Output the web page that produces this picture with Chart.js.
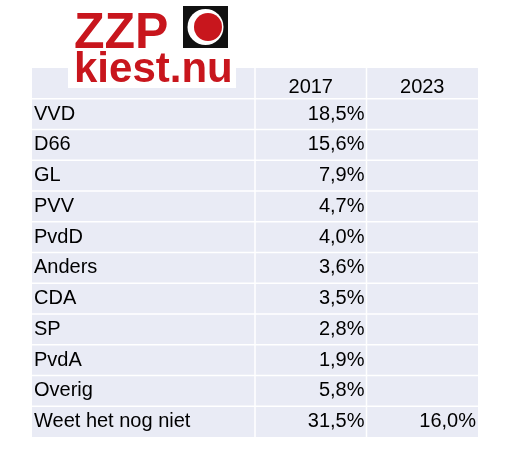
<!DOCTYPE html>
<html><head><meta charset="utf-8">
<script src="https://cdn.jsdelivr.net/npm/chart.js@4/dist/chart.umd.min.js"></script>
<style>body{margin:0;background:#fff}</style></head>
<body><canvas id="c" width="507" height="454"></canvas>
<script>
const parties = ["VVD","D66","GL","PVV","PvdD","Anders","CDA","SP","PvdA","Overig","Weet het nog niet"];
const years = ["2017","2023"];
const v2017 = ["18,5%","15,6%","7,9%","4,7%","4,0%","3,6%","3,5%","2,8%","1,9%","5,8%","31,5%"];
const v2023 = ["","","","","","","","","","","16,0%"];
const rows = ["header"].concat(parties);

const tablePlugin = {
  id:'table',
  afterDraw(chart){
    const ctx = chart.ctx, ys = chart.scales.y, xs = chart.scales.x;
    const colX = [xs.getPixelForValue(0), xs.getPixelForValue(2), xs.getPixelForValue(3), xs.getPixelForValue(4)];
    const half = (ys.getPixelForValue(1)-ys.getPixelForValue(0))/2;
    ctx.save();
    ctx.fillStyle = '#e9ebf5';
    ctx.fillRect(colX[0], ys.getPixelForValue(0)-half, colX[3]-colX[0], rows.length*half*2);
    ctx.strokeStyle = '#ffffff'; ctx.lineWidth = 1.5;
    for (let i=1;i<rows.length;i++){ const y=ys.getPixelForValue(i)-half; ctx.beginPath(); ctx.moveTo(colX[0],y); ctx.lineTo(colX[3],y); ctx.stroke(); }
    for (let j=1;j<3;j++){ ctx.beginPath(); ctx.moveTo(colX[j],ys.getPixelForValue(0)-half); ctx.lineTo(colX[j],ys.getPixelForValue(rows.length-1)+half); ctx.stroke(); }
    ctx.fillStyle = '#000'; ctx.font = '20px "Liberation Sans", Arial'; ctx.textBaseline = 'middle';
    ctx.textAlign = 'center';
    ctx.fillText(years[0], (colX[1]+colX[2])/2, ys.getPixelForValue(0)+4);
    ctx.fillText(years[1], (colX[2]+colX[3])/2, ys.getPixelForValue(0)+4);
    parties.forEach((p,i)=>{
      const y = ys.getPixelForValue(i+1);
      ctx.textAlign='left'; ctx.fillText(p, colX[0]+2, y);
      ctx.textAlign='right'; ctx.fillText(v2017[i], colX[2]-2, y); ctx.fillText(v2023[i], colX[3]-2, y);
    });
    // logo
    ctx.fillStyle='#fff'; ctx.fillRect(68,0,168,88);
    ctx.fillStyle='#c8161d'; ctx.font='bold 50px "Liberation Sans", Arial'; ctx.textAlign='left'; ctx.textBaseline='alphabetic';
    ctx.fillText('ZZP',74,48);
    ctx.font='bold 42px "Liberation Sans", Arial'; ctx.fillText('kiest.nu',74,82);
    ctx.fillStyle='#111'; ctx.fillRect(183,6,45,42);
    ctx.fillStyle='#fff'; ctx.beginPath(); ctx.arc(205.5,27,18,0,Math.PI*2); ctx.fill();
    ctx.fillStyle='#c8161d'; ctx.beginPath(); ctx.arc(208,27,14,0,Math.PI*2); ctx.fill();
    ctx.restore();
  }
};
new Chart(document.getElementById('c'),{
  type:'scatter',
  data:{datasets:[{data:[],pointRadius:0}]},
  options:{responsive:false,animation:false,
    layout:{padding:{left:32,right:29,top:68,bottom:17}},
    plugins:{legend:{display:false},tooltip:{enabled:false}},
    scales:{
      x:{type:'linear',min:0,max:4,display:false},
      y:{type:'category',labels:rows,offset:true,display:false}
    }},
  plugins:[tablePlugin]
});
</script></body></html>
